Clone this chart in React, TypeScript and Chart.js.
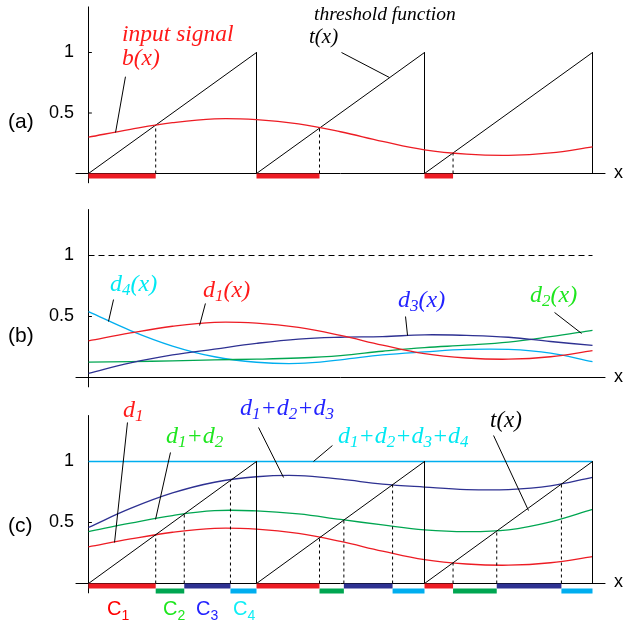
import React, { useEffect, useRef } from "react";
import { Chart, registerables } from "chart.js";
Chart.register(...registerables);

// ---------- data ----------
const xSamples = [0, 0.25, 0.5, 0.75, 1, 1.25, 1.5, 1.75, 2, 2.25, 2.5, 2.75, 3];
const d1 = [0.30, 0.365, 0.42, 0.452, 0.445, 0.41, 0.345, 0.265, 0.195, 0.16, 0.15, 0.17, 0.22];
const d2 = [0.126, 0.13, 0.137, 0.145, 0.15, 0.16, 0.18, 0.215, 0.245, 0.265, 0.29, 0.335, 0.387];
const d3 = [0.034, 0.12, 0.185, 0.233, 0.28, 0.315, 0.33, 0.335, 0.35, 0.345, 0.33, 0.295, 0.263];
const d4 = [0.54, 0.385, 0.258, 0.17, 0.125, 0.115, 0.145, 0.185, 0.21, 0.23, 0.23, 0.2, 0.13];

const rampPeriods = [0, 1, 2];
const c1Intervals = [[0, 0.4], [1, 1.375], [2, 2.17]];
const c2Intervals = [[0.4, 0.57], [1.375, 1.52], [2.17, 2.43]];
const c3Intervals = [[0.57, 0.845], [1.52, 1.81], [2.43, 2.815]];
const c4Intervals = [[0.845, 1], [1.81, 2], [2.815, 3]];

const yTickValues = [0.5, 1];
const yTickLabels = ["0.5", "1"];

// leader lines [x1, y1, x2, y2] in data units
const leadersA = [[0.22, 0.8, 0.161, 0.339], [1.506, 1.0, 1.792, 0.793]];
const leadersB = [[0.149, 0.639, 0.119, 0.459], [0.696, 0.607, 0.661, 0.426], [1.887, 0.5, 1.899, 0.344], [2.774, 0.533, 2.935, 0.361]];
const leadersC = [[0.232, 1.32, 0.155, 0.336], [0.488, 1.074, 0.399, 0.525], [1.012, 1.279, 1.161, 0.869], [1.452, 1.131, 1.339, 1.0], [2.411, 1.213, 2.619, 0.598]];

// ---------- styling ----------
const RED = "#ED1C24";
const GREEN = "#00A651";
const NAVY = "#2E3192";
const CYAN = "#00AEEF";
const T_RED = "#FF1A1A";
const T_GREEN = "#1EE61E";
const T_BLUE = "#2323FF";
const T_CYAN = "#00E8F2";
const FONT_SANS = "'Liberation Sans', Arial, Helvetica, sans-serif";
const FONT_SERIF = "'Liberation Serif', 'Times New Roman', Times, serif";

const X_MAX = 3.0744;
const X_AXIS_LEFT = -0.077;
const X_AXIS_RIGHT = 3.077;
const Y_MIN = -0.08;
const Y_MAX = 1.38;

type P = { x: number; y: number | null };

function pts(xv: number[], yv: number[]): P[] {
  return xv.map((x, i) => ({ x, y: yv[i] }));
}
function segs(list: number[][]): P[] {
  const out: P[] = [];
  list.forEach((s) => {
    out.push({ x: s[0], y: s[1] }, { x: s[2], y: s[3] }, { x: s[2], y: null });
  });
  return out;
}
function line(data: P[], color: string, width: number, extra: any = {}) {
  return {
    data,
    borderColor: color,
    backgroundColor: color,
    borderWidth: width,
    pointRadius: 0,
    pointHoverRadius: 0,
    tension: 0,
    clip: false,
    fill: false,
    spanGaps: false,
    ...extra,
  };
}
function frac(v: number) {
  return v - Math.floor(v);
}
function rampData(): P[] {
  const out: P[] = [];
  rampPeriods.forEach((p) => {
    out.push({ x: p, y: 0 }, { x: p + 1, y: 1 });
  });
  out.push({ x: rampPeriods[rampPeriods.length - 1] + 1, y: 0 });
  return out;
}
function barData(intervals: number[][], level: number) {
  return segs(intervals.map((iv) => [iv[0], level, iv[1], level]));
}
function dropData(xsB: number[]) {
  return segs(xsB.filter((v) => frac(v) > 1e-9).map((v) => [v, 0, v, frac(v)]));
}
function axesData() {
  return [
    line(segs([[X_AXIS_LEFT, 0, X_AXIS_RIGHT, 0]]), "#000", 1),
    line(segs([[0, Y_MIN, 0, Y_MAX]]), "#000", 1),
    line(segs(yTickValues.map((v) => [0, v, 0.02, v])), "#000", 1),
  ];
}
function leaderData(list: number[][]) {
  return line(segs(list), "#000", 1);
}
function sumSeries(...arrs: number[][]) {
  return arrs[0].map((_, i) => arrs.reduce((s, a) => s + a[i], 0));
}

function makeChart(canvas: HTMLCanvasElement, datasets: any[], padTop: number, padBottom: number) {
  return new Chart(canvas, {
    type: "line",
    data: { datasets },
    options: {
      animation: false,
      responsive: false,
      maintainAspectRatio: false,
      devicePixelRatio: 1,
      events: [],
      layout: { padding: { left: 0, right: 20, top: padTop, bottom: padBottom }, autoPadding: false },
      plugins: { legend: { display: false }, tooltip: { enabled: false }, title: { display: false } },
      elements: { point: { radius: 0 }, line: { fill: false } },
      scales: {
        x: { type: "linear", display: false, min: 0, max: X_MAX },
        y: {
          type: "linear",
          min: Y_MIN,
          max: Y_MAX,
          grid: { display: false },
          border: { display: false },
          afterBuildTicks: (s: any) => {
            s.ticks = yTickValues.map((v) => ({ value: v }));
          },
          afterFit: (s: any) => {
            s.width = 88.5;
            s.paddingTop = 0;
            s.paddingBottom = 0;
          },
          ticks: {
            color: "#000",
            padding: 6.5,
            font: { family: FONT_SANS, size: 18 },
            callback: (v: any) => {
              const i = yTickValues.indexOf(Number(v));
              return i >= 0 ? yTickLabels[i] : "";
            },
          },
        },
      },
    } as any,
  });
}

// ---------- rich text labels ----------
function parseRich(s: string) {
  const parts: { t: string; sub: boolean }[] = [];
  let buf = "";
  for (let i = 0; i < s.length; i++) {
    if (s[i] === "_") {
      if (buf) parts.push({ t: buf, sub: false });
      buf = "";
      parts.push({ t: s[i + 1], sub: true });
      i++;
    } else buf += s[i];
  }
  if (buf) parts.push({ t: buf, sub: false });
  return parts;
}

type Lbl = { x: number; y: number; text: string; size: number; color: string; serif: boolean; sub?: number; shift?: number };

function RichText({ l }: { l: Lbl }) {
  const parts = parseRich(l.text);
  const subSize = l.sub ?? Math.round(l.size * 0.72);
  const shift = l.shift ?? 4;
  let prevSub = false;
  return (
    <text
      x={l.x}
      y={l.y}
      fill={l.color}
      fontSize={l.size}
      fontFamily={l.serif ? FONT_SERIF : FONT_SANS}
      fontStyle={l.serif ? "italic" : "normal"}
    >
      {parts.map((p, k) => {
        let dy = 0;
        if (p.sub && !prevSub) dy = shift;
        if (!p.sub && prevSub) dy = -shift;
        prevSub = p.sub;
        return (
          <tspan key={k} dy={dy} fontSize={p.sub ? subSize : l.size}>
            {p.t}
          </tspan>
        );
      })}
    </text>
  );
}

const labels: Lbl[] = [
  // panel labels
  { x: 8, y: 128, text: "(a)", size: 21, color: "#000", serif: false },
  { x: 8, y: 342, text: "(b)", size: 21, color: "#000", serif: false },
  { x: 8, y: 532, text: "(c)", size: 21, color: "#000", serif: false },
  { x: 614, y: 178, text: "x", size: 18, color: "#000", serif: false },
  { x: 614, y: 382, text: "x", size: 18, color: "#000", serif: false },
  { x: 614, y: 587, text: "x", size: 18, color: "#000", serif: false },
  // (a)
  { x: 122, y: 41, text: "input signal", size: 23.5, color: T_RED, serif: true },
  { x: 122, y: 65, text: "b(x)", size: 23.5, color: T_RED, serif: true },
  { x: 314, y: 20, text: "threshold function", size: 19.5, color: "#000", serif: true },
  { x: 309, y: 43, text: "t(x)", size: 21, color: "#000", serif: true },
  // (b)
  { x: 110, y: 291, text: "d_4(x)", size: 24, color: T_CYAN, serif: true },
  { x: 203, y: 297, text: "d_1(x)", size: 24, color: T_RED, serif: true },
  { x: 398, y: 307, text: "d_3(x)", size: 24, color: T_BLUE, serif: true },
  { x: 530, y: 302, text: "d_2(x)", size: 24, color: T_GREEN, serif: true },
  // (c)
  { x: 123, y: 417, text: "d_1", size: 24, color: T_RED, serif: true },
  { x: 166, y: 443, text: "d_1+d_2", size: 24, color: T_GREEN, serif: true },
  { x: 240, y: 415, text: "d_1+d_2+d_3", size: 24, color: T_BLUE, serif: true },
  { x: 338, y: 443, text: "d_1+d_2+d_3+d_4", size: 24, color: T_CYAN, serif: true },
  { x: 490, y: 427, text: "t(x)", size: 23, color: "#000", serif: true },
  // class names
  { x: 107, y: 615, text: "C_1", size: 20, color: "#FF0000", serif: false, sub: 14, shift: 5 },
  { x: 163, y: 615, text: "C_2", size: 20, color: T_GREEN, serif: false, sub: 14, shift: 5 },
  { x: 196, y: 615, text: "C_3", size: 20, color: T_BLUE, serif: false, sub: 14, shift: 5 },
  { x: 233, y: 615, text: "C_4", size: 20, color: "#10EEF5", serif: false, sub: 14, shift: 5 },
];

export default function App() {
  const refA = useRef<HTMLCanvasElement>(null);
  const refB = useRef<HTMLCanvasElement>(null);
  const refC = useRef<HTMLCanvasElement>(null);

  useEffect(() => {
    const s12 = sumSeries(d1, d2);
    const s123 = sumSeries(d1, d2, d3);
    const s1234 = sumSeries(d1, d2, d3, d4);
    const curve = (vals: number[], color: string) => line(pts(xSamples, vals), color, 1.3, { tension: 0.4 });

    const dsA = [
      line(barData(c1Intervals, -0.021), RED, 5, { borderCapStyle: "butt" }),
      line(dropData(c1Intervals.map((iv) => iv[1])), "#000", 1, { borderDash: [3, 3] }),
      leaderData(leadersA),
      curve(d1, RED),
      line(rampData(), "#000", 1),
      ...axesData(),
    ];

    const dsB = [
      leaderData(leadersB),
      line(segs([[0, 1, 3, 1]]), "#000", 1, { borderDash: [6, 4] }),
      curve(d1, RED),
      curve(d3, NAVY),
      curve(d2, GREEN),
      curve(d4, CYAN),
      ...axesData(),
    ];

    const boundaries = [...c1Intervals, ...c2Intervals, ...c3Intervals].map((iv) => iv[1]);
    const dsC = [
      line(barData(c1Intervals, -0.021), RED, 5, { borderCapStyle: "butt" }),
      line(barData(c3Intervals, -0.021), NAVY, 5, { borderCapStyle: "butt" }),
      line(barData(c2Intervals, -0.062), GREEN, 5, { borderCapStyle: "butt" }),
      line(barData(c4Intervals, -0.062), CYAN, 5, { borderCapStyle: "butt" }),
      line(dropData(boundaries), "#000", 1, { borderDash: [3, 3] }),
      leaderData(leadersC),
      line(rampData(), "#000", 1),
      curve(d1, RED),
      curve(s12, GREEN),
      curve(s123, NAVY),
      curve(s1234, CYAN),
      ...axesData(),
    ];

    const charts = [
      makeChart(refA.current!, dsA, 6.52, 16.82),
      makeChart(refB.current!, dsB, 9.14, 12.74),
      makeChart(refC.current!, dsC, 15.14, 27.74),
    ];
    return () => charts.forEach((c) => c.destroy());
  }, []);

  const cv = (top: number, h: number): React.CSSProperties => ({
    position: "absolute",
    left: 0,
    top,
    width: 625,
    height: h,
    display: "block",
  });

  return (
    <div style={{ position: "absolute", left: 0, top: 0, width: 625, height: 621, background: "#fff" }}>
      <canvas ref={refA} width={625} height={200} style={cv(0, 200)} />
      <canvas ref={refB} width={625} height={200} style={cv(200, 200)} />
      <canvas ref={refC} width={625} height={221} style={cv(400, 221)} />
      <svg width={625} height={621} style={{ position: "absolute", left: 0, top: 0, pointerEvents: "none" }}>
        {labels.map((l, i) => (
          <RichText key={i} l={l} />
        ))}
      </svg>
    </div>
  );
}
